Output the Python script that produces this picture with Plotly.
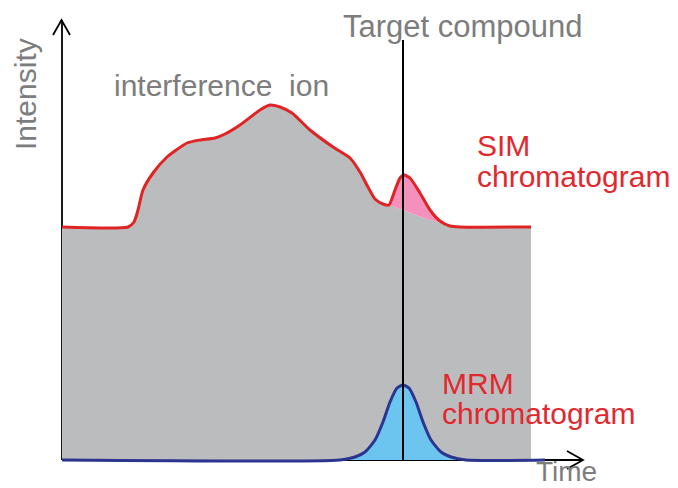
import plotly.graph_objects as go

# ---- data (time, intensity in arbitrary units) ----
sim_t = [0, 66, 72, 76, 81, 91, 105, 125, 138, 153, 163, 178, 198, 208, 218, 230, 248, 271, 288, 298,
         306, 313, 321, 327, 333, 338, 342, 348, 358, 368, 378, 388, 398, 469]
sim_i = [233, 233, 238, 250, 270, 287, 303, 317, 320, 322, 326, 335, 350, 355, 353, 347, 330, 313, 302, 288,
         273, 261, 256, 255, 270, 282, 285, 282, 267, 250, 239, 234, 233, 233]

interf_t = [0, 66, 72, 76, 81, 91, 105, 125, 138, 153, 163, 178, 198, 208, 218, 230, 248, 271, 288, 298,
            306, 313, 321, 327, 358, 385, 398, 469]
interf_i = [233, 233, 238, 250, 270, 287, 303, 317, 320, 322, 326, 335, 350, 355, 353, 347, 330, 313, 302, 288,
            273, 261, 256, 255, 243.5, 235, 233, 233]

mrm_t = [0, 278, 293, 303, 313, 321, 328, 335, 341, 347, 354, 361, 369, 379, 389, 404, 483]
mrm_i = [0, 0, 3, 8, 20, 38, 58, 72, 75, 72, 58, 38, 20, 8, 3, 0, 0]

target_t = 341
axis_t_max = 521
axis_i_max = 440

GRAY_TXT = "#7d7d7d"
RED_TXT = "#e2282e"

fig = go.Figure()
fig.add_trace(go.Scatter(x=interf_t, y=interf_i, mode="lines", line=dict(width=0, shape="spline", smoothing=0.6),
                         fill="tozeroy", fillcolor="#bbbcbe", hoverinfo="skip"))
fig.add_trace(go.Scatter(x=sim_t, y=sim_i, mode="lines", line=dict(width=3, color="#e02424", shape="spline", smoothing=0.6),
                         fill="tonexty", fillcolor="#f390bb", hoverinfo="skip"))
fig.add_trace(go.Scatter(x=mrm_t, y=mrm_i, mode="lines", line=dict(width=3, color="#2b3590", shape="spline", smoothing=0.6),
                         fill="tozeroy", fillcolor="#6cc5ee", hoverinfo="skip"))

shapes = [
    dict(type="line", x0=0, x1=0, y0=0, y1=axis_i_max, line=dict(color="black", width=1.8), layer="below"),
    dict(type="line", x0=0, x1=axis_t_max, y0=0, y1=0, line=dict(color="black", width=1.8), layer="below"),
    dict(type="path", path=f"M -9,{axis_i_max-15} L -0.5,{axis_i_max} L 8,{axis_i_max-15}",
         line=dict(color="black", width=1.8)),
    dict(type="path", path=f"M {axis_t_max-16},9 L {axis_t_max},0 L {axis_t_max-16},-9",
         line=dict(color="black", width=1.8)),
    dict(type="line", x0=target_t, x1=target_t, y0=0, y1=420, line=dict(color="black", width=2)),
]

F = "Liberation Sans, Arial, sans-serif"
def ann(text, x, y, color, size=30, angle=0, xanchor="left", pad=1):
    return dict(text=text, x=x, y=y, xref="x", yref="y", showarrow=False, xanchor=xanchor, yanchor="middle",
                textangle=angle, borderpad=pad, font=dict(family=F, size=size, color=color))

annotations = [
    ann("Target compound", 279, 434, GRAY_TXT, size=31),
    ann("interference\u00a0 ion", 50, 375, GRAY_TXT),
    ann("SIM", 413, 315, RED_TXT),
    ann("chromatogram", 413, 284, RED_TXT),
    ann("MRM", 378, 77, RED_TXT),
    ann("chromatogram", 378, 47, RED_TXT),
    ann("Intensity", -37, 366, GRAY_TXT, angle=-90, xanchor="center"),
    ann("Time", 473, -11, GRAY_TXT, size=28, pad=0),
]

# the page body adds an 8 px margin, so the figure is 8 px smaller and the ranges start 8 px in
fig.update_layout(
    width=670, height=480, autosize=False,
    margin=dict(l=0, r=0, t=0, b=0),
    paper_bgcolor="white", plot_bgcolor="white",
    showlegend=False,
    xaxis=dict(range=[-54, 616], visible=False, fixedrange=True),
    yaxis=dict(range=[-28, 452], visible=False, fixedrange=True),
    shapes=shapes, annotations=annotations,
)
fig.write_html("out.html")
